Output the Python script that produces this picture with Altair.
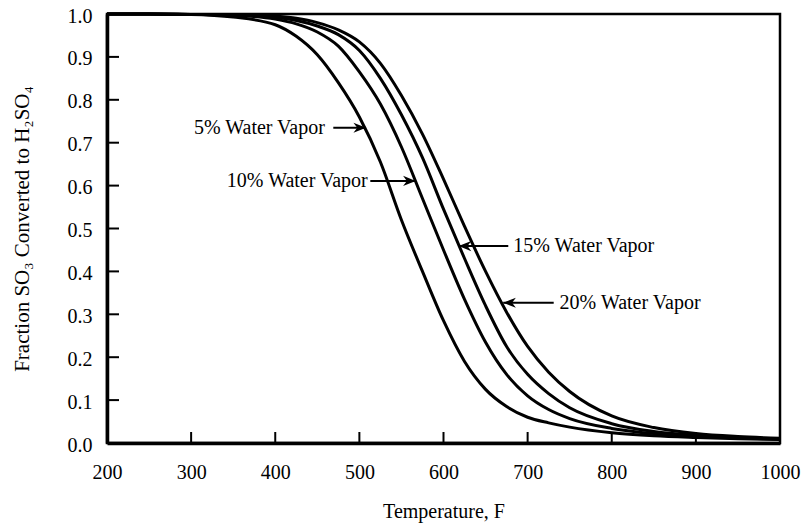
import altair as alt
import pandas as pd

# Temperature (F) grid at which the curves were read
temps = [200, 250, 300, 350, 400, 425, 450, 475, 500, 525, 550, 575, 600,
         625, 650, 675, 700, 725, 750, 800, 850, 900, 950, 1000]

frac_5 = [1.0, 1.0, 0.999, 0.993, 0.975, 0.948, 0.905, 0.84, 0.76, 0.655, 0.52,
          0.40, 0.285, 0.19, 0.125, 0.085, 0.06, 0.047, 0.037, 0.024, 0.017,
          0.013, 0.010, 0.008]
frac_10 = [1.0, 1.0, 0.999, 0.997, 0.988, 0.977, 0.958, 0.925, 0.865, 0.79, 0.69,
           0.57, 0.45, 0.335, 0.235, 0.16, 0.11, 0.078, 0.057, 0.034, 0.022,
           0.016, 0.012, 0.009]
frac_15 = [1.0, 1.0, 0.999, 0.998, 0.992, 0.985, 0.972, 0.952, 0.915, 0.85, 0.765,
           0.665, 0.545, 0.43, 0.32, 0.225, 0.16, 0.115, 0.082, 0.045, 0.027,
           0.018, 0.013, 0.010]
frac_20 = [1.0, 1.0, 0.999, 0.999, 0.995, 0.99, 0.98, 0.963, 0.935, 0.885,
           0.81, 0.72, 0.615, 0.505, 0.40, 0.305, 0.225, 0.165, 0.12, 0.063,
           0.036, 0.022, 0.015, 0.011]

series_names = ["5%", "10%", "15%", "20%"]

x_ticks = [300, 400, 500, 600, 700, 800, 900]
y_ticks = [0.1, 0.2, 0.3, 0.4, 0.5, 0.6, 0.7, 0.8, 0.9]
x_label_values = [200, 300, 400, 500, 600, 700, 800, 900, 1000]
y_label_values = [0.0, 0.1, 0.2, 0.3, 0.4, 0.5, 0.6, 0.7, 0.8, 0.9, 1.0]

# Annotations (data units)
ann_text = ["5% Water Vapor", "10% Water Vapor", "15% Water Vapor", "20% Water Vapor"]
ann_text_x = [459, 510, 683, 738]
ann_y = [0.735, 0.611, 0.459, 0.327]
ann_shaft_x = [469, 513, 677, 731]
ann_tip_x = [508, 567, 618, 671]
ann_angle = [0, 0, 180, 180]
ann_side = ["right", "right", "left", "left"]

FONT = "Liberation Serif"

rows = []
for name, vals in zip(series_names, [frac_5, frac_10, frac_15, frac_20]):
    for t, v in zip(temps, vals):
        rows.append({"series": name, "temp": t, "frac": v})
curves = pd.DataFrame(rows)

ann = pd.DataFrame({"text": ann_text, "tx": ann_text_x, "y": ann_y,
                    "sx": ann_shaft_x, "tip": ann_tip_x, "angle": ann_angle,
                    "side": ann_side})

xscale = alt.Scale(domain=[200, 1000], nice=False, zero=False)
yscale = alt.Scale(domain=[0, 1], nice=False)

x_axis = alt.Axis(values=x_label_values, format="d", grid=False, ticks=False,
                  tickSize=0, labelPadding=19, labelFont=FONT, labelFontSize=20,
                  labelColor="black", domainColor="black", domainWidth=3.5,
                  title="Temperature, F", titleFont=FONT, titleFontSize=20,
                  titleFontWeight="normal", titleColor="black", titlePadding=19,
                  labelFlush=False)
y_axis = alt.Axis(values=y_label_values, format=".1f", grid=False, ticks=False,
                  tickSize=0, labelPadding=15, labelOffset=2, labelFont=FONT,
                  labelFontSize=20, labelColor="black", domainColor="black",
                  domainWidth=3.5,
                  title="Fraction SO\u2083 Converted to H\u2082SO\u2084",
                  titleFont=FONT, titleFontSize=21, titleFontWeight="normal",
                  titleColor="black", titlePadding=35, labelFlush=False)

lines = alt.Chart(curves).mark_line(color="black", strokeWidth=3,
                                    interpolate="monotone").encode(
    x=alt.X("temp:Q", scale=xscale, axis=x_axis),
    y=alt.Y("frac:Q", scale=yscale, axis=y_axis),
    detail="series:N",
)

ytick_df = pd.DataFrame({"v": y_ticks})
yticks = alt.Chart(ytick_df).mark_rule(color="black", strokeWidth=2).encode(
    y=alt.Y("v:Q", scale=yscale, axis=y_axis),
    x=alt.value(0), x2=alt.value(12),
)
xtick_df = pd.DataFrame({"v": x_ticks})
xticks = alt.Chart(xtick_df).mark_rule(color="black", strokeWidth=2).encode(
    x=alt.X("v:Q", scale=xscale, axis=x_axis),
    y=alt.value(429), y2=alt.value(418),
)

shafts = alt.Chart(ann).mark_rule(color="black", strokeWidth=2).encode(
    x=alt.X("sx:Q", scale=xscale, axis=x_axis),
    x2="tip:Q",
    y=alt.Y("y:Q", scale=yscale, axis=y_axis),
)

arrow_path = "M0,0L-2,-0.8L-1.4,0L-2,0.8Z"
heads = alt.Chart(ann).mark_point(shape=arrow_path, filled=True, size=160,
                                  color="black", opacity=1, strokeWidth=0).encode(
    x=alt.X("tip:Q", scale=xscale, axis=x_axis),
    y=alt.Y("y:Q", scale=yscale, axis=y_axis),
    angle=alt.Angle("angle:Q", scale=None),
)

text_r = alt.Chart(ann).transform_filter(alt.datum.side == "right").mark_text(
    align="right", baseline="middle", font=FONT, fontSize=20, color="black"
).encode(
    x=alt.X("tx:Q", scale=xscale, axis=x_axis),
    y=alt.Y("y:Q", scale=yscale, axis=y_axis),
    text="text:N",
)
text_l = alt.Chart(ann).transform_filter(alt.datum.side == "left").mark_text(
    align="left", baseline="middle", font=FONT, fontSize=20, color="black"
).encode(
    x=alt.X("tx:Q", scale=xscale, axis=x_axis),
    y=alt.Y("y:Q", scale=yscale, axis=y_axis),
    text="text:N",
)

chart = alt.layer(lines, yticks, xticks, shafts, heads, text_r, text_l).properties(
    width=673, height=429,
    autosize=alt.AutoSizeParams(type="none"),
    padding={"left": 99, "top": 6, "right": 24, "bottom": 80},
    background="white",
).configure_view(
    stroke="black", strokeWidth=2.5
)

chart.save("out.html", embed_options={"renderer": "svg", "actions": False})
